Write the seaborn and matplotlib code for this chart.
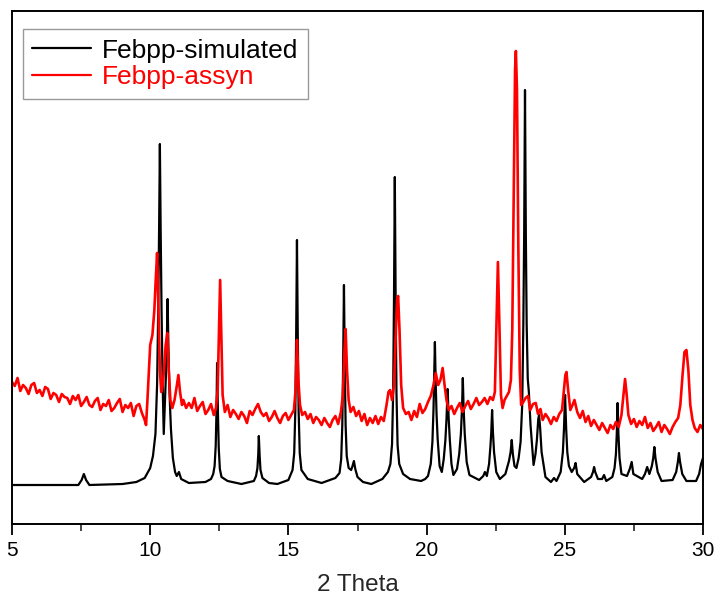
"""
XRD comparison: simulated vs as-synthesised Febpp pattern.
Writes out.png
"""

import matplotlib
matplotlib.use("Agg")
import matplotlib.pyplot as plt
from matplotlib.ticker import MultipleLocator
import pandas as pd
import seaborn as sns

# -- simulated pattern (2theta, intensity a.u.) ------------------------------
sim_2theta = [
    5.0, 7.4, 7.52, 7.6, 7.68, 7.8, 9.0, 9.5, 9.8, 10.0,
    10.1, 10.19, 10.25, 10.29, 10.32, 10.35, 10.38, 10.41, 10.45, 10.49,
    10.53, 10.57, 10.6, 10.63, 10.66, 10.7, 10.75, 10.82, 10.9, 10.96,
    11.04, 11.12, 11.4, 12.0, 12.2, 12.28, 12.33, 12.37, 12.4, 12.42,
    12.45, 12.48, 12.52, 12.58, 12.8, 13.3, 13.75, 13.83, 13.88, 13.91,
    13.93, 13.96, 13.99, 14.06, 14.3, 14.6, 15.0, 15.15, 15.21, 15.25,
    15.28, 15.31, 15.34, 15.37, 15.41, 15.47, 15.7, 16.2, 16.7, 16.85,
    16.91, 16.95, 16.98, 17.01, 17.04, 17.07, 17.11, 17.18, 17.27, 17.32,
    17.37, 17.42, 17.5, 17.7, 18.0, 18.4, 18.6, 18.69, 18.75, 18.79,
    18.82, 18.85, 18.88, 18.91, 18.95, 19.01, 19.15, 19.4, 19.8, 19.95,
    20.05, 20.15, 20.21, 20.25, 20.27, 20.3, 20.33, 20.36, 20.4, 20.47,
    20.55, 20.62, 20.68, 20.72, 20.76, 20.8, 20.84, 20.9, 20.97, 21.1,
    21.18, 21.24, 21.28, 21.31, 21.34, 21.38, 21.45, 21.55, 21.9, 22.05,
    22.11, 22.18, 22.26, 22.31, 22.34, 22.37, 22.4, 22.44, 22.52, 22.65,
    22.85, 22.98, 23.04, 23.08, 23.12, 23.18, 23.25, 23.33, 23.4, 23.46,
    23.5, 23.53, 23.56, 23.59, 23.62, 23.66, 23.7, 23.76, 23.87, 23.94,
    23.99, 24.04, 24.07, 24.11, 24.16, 24.3, 24.5, 24.61, 24.7, 24.85,
    24.93, 24.97, 25.01, 25.05, 25.09, 25.15, 25.25, 25.34, 25.39, 25.45,
    25.7, 25.95, 26.02, 26.06, 26.1, 26.2, 26.35, 26.42, 26.5, 26.72,
    26.8, 26.85, 26.88, 26.91, 26.94, 26.98, 27.05, 27.25, 27.35, 27.42,
    27.48, 27.8, 27.9, 27.98, 28.06, 28.15, 28.2, 28.24, 28.28, 28.36,
    28.5, 28.9, 29.03, 29.09, 29.13, 29.17, 29.25, 29.4, 29.75, 29.86,
    29.93, 30.0,
]
sim_int = [
    39, 39, 44, 50, 44, 39, 40, 42, 46, 56,
    68, 90, 140, 215, 290, 380, 290, 215, 140, 90,
    120, 150, 180, 225, 175, 130, 95, 66, 52, 48,
    52, 45, 41, 42, 45, 50, 58, 78, 115, 161,
    112, 76, 55, 47, 43, 40, 43, 48, 56, 70,
    88, 68, 54, 46, 41, 40, 44, 54, 71, 113,
    186, 284, 186, 113, 71, 54, 45, 41, 46, 51,
    65, 99, 159, 239, 159, 99, 68, 56, 54, 58,
    63, 55, 47, 42, 40, 45, 52, 60, 80, 131,
    224, 347, 224, 131, 79, 60, 50, 45, 43, 45,
    48, 60, 82, 115, 140, 182, 140, 110, 85, 58,
    52, 65, 84, 105, 135, 105, 84, 60, 49, 55,
    70, 90, 115, 146, 115, 90, 62, 49, 44, 48,
    52, 48, 60, 78, 92, 114, 92, 72, 52, 45,
    50, 63, 72, 84, 70, 58, 56, 66, 82, 120,
    200, 290, 434, 290, 200, 145, 132, 99, 59, 70,
    84, 105, 109, 95, 72, 47, 42, 46, 43, 52,
    72, 95, 129, 95, 72, 58, 52, 56, 61, 50,
    42, 47, 52, 57, 52, 45, 45, 49, 43, 47,
    56, 70, 90, 121, 90, 66, 50, 48, 55, 62,
    50, 45, 50, 57, 50, 58, 66, 77, 66, 52,
    43, 44, 52, 62, 71, 62, 50, 43, 43, 50,
    60, 66,
]

# -- as-synthesised pattern ---------------------------------------------------
syn_2theta = [
    5.0, 5.1, 5.2, 5.3, 5.4, 5.5, 5.6, 5.7, 5.8, 5.9,
    6.0, 6.1, 6.2, 6.3, 6.4, 6.5, 6.6, 6.7, 6.8, 6.9,
    7.0, 7.1, 7.2, 7.3, 7.4, 7.5, 7.6, 7.7, 7.8, 7.9,
    8.0, 8.1, 8.2, 8.3, 8.4, 8.5, 8.6, 8.7, 8.8, 8.9,
    9.0, 9.1, 9.2, 9.3, 9.4, 9.5, 9.6, 9.7, 9.8, 9.85,
    9.9, 9.95, 10.0, 10.08, 10.15, 10.2, 10.25, 10.3, 10.35, 10.4,
    10.45, 10.5, 10.56, 10.62, 10.67, 10.73, 10.8, 10.88, 10.95, 11.02,
    11.08, 11.15, 11.2, 11.3, 11.4, 11.5, 11.6, 11.7, 11.8, 11.9,
    12.0, 12.1, 12.2, 12.3, 12.38, 12.44, 12.49, 12.53, 12.57, 12.62,
    12.7, 12.8, 12.9, 13.0, 13.1, 13.2, 13.3, 13.4, 13.5, 13.6,
    13.7, 13.8, 13.9, 14.0, 14.1, 14.2, 14.3, 14.4, 14.5, 14.6,
    14.7, 14.8, 14.9, 15.0, 15.1, 15.2, 15.26, 15.31, 15.36, 15.42,
    15.5, 15.6, 15.7, 15.8, 15.9, 16.0, 16.1, 16.2, 16.3, 16.4,
    16.5, 16.6, 16.7, 16.8, 16.9, 16.97, 17.03, 17.07, 17.12, 17.18,
    17.25, 17.35, 17.45, 17.55, 17.65, 17.75, 17.85, 17.95, 18.05, 18.15,
    18.25, 18.35, 18.45, 18.55, 18.62, 18.68, 18.75, 18.82, 18.88, 18.93,
    18.97, 19.02, 19.08, 19.15, 19.25, 19.35, 19.45, 19.55, 19.65, 19.75,
    19.85, 19.95, 20.05, 20.15, 20.25, 20.33, 20.42, 20.5, 20.58, 20.65,
    20.72, 20.8, 20.9, 21.0, 21.1, 21.2, 21.3, 21.4, 21.5, 21.6,
    21.7, 21.8, 21.9, 22.0, 22.1, 22.2, 22.3, 22.4, 22.47, 22.53,
    22.58, 22.63, 22.69, 22.75, 22.82, 22.9, 22.98, 23.05, 23.1, 23.15,
    23.2, 23.23, 23.27, 23.32, 23.37, 23.42, 23.5, 23.58, 23.67, 23.75,
    23.85, 23.95, 24.03, 24.12, 24.2, 24.3, 24.4, 24.5, 24.6, 24.7,
    24.8, 24.9, 24.96, 25.02, 25.06, 25.12, 25.2, 25.28, 25.35, 25.45,
    25.55, 25.65, 25.75, 25.85, 25.95, 26.05, 26.15, 26.25, 26.35, 26.45,
    26.55, 26.65, 26.75, 26.85, 26.95, 27.05, 27.12, 27.18, 27.24, 27.3,
    27.4, 27.5, 27.6, 27.7, 27.8, 27.9, 28.0, 28.1, 28.2, 28.3,
    28.4, 28.5, 28.6, 28.7, 28.8, 28.9, 29.0, 29.1, 29.18, 29.26,
    29.33, 29.4, 29.47, 29.54, 29.62, 29.7, 29.8, 29.9, 30.0,
]
syn_int = [
    142, 138, 146, 133, 139, 136, 130, 139, 141, 131,
    134, 128, 137, 135, 125, 131, 129, 122, 130, 127,
    126, 120, 128, 124, 129, 118, 122, 127, 119, 117,
    123, 126, 114, 120, 118, 124, 113, 116, 121, 125,
    112, 119, 116, 121, 108, 118, 120, 111, 104, 99,
    124, 152, 179, 189, 214, 244, 271, 214, 154, 132,
    139, 154, 179, 191, 154, 124, 116, 124, 136, 149,
    132, 119, 124, 116, 121, 116, 126, 113, 118, 122,
    110, 114, 120, 109, 116, 134, 194, 244, 194, 129,
    112, 119, 107, 114, 110, 105, 112, 108, 101, 113,
    109, 115, 120, 112, 108, 111, 103, 107, 113, 106,
    101, 108, 111, 104, 109, 114, 134, 184, 144, 119,
    109, 112, 105, 110, 101, 107, 104, 99, 106, 101,
    97, 104, 108, 100, 112, 129, 174, 195, 154, 124,
    112, 117, 108, 113, 103, 110, 99, 106, 101, 108,
    100, 107, 103, 119, 132, 134, 124, 139, 184, 224,
    228, 194, 139, 116, 110, 112, 104, 113, 107, 120,
    111, 115, 122, 128, 139, 151, 139, 144, 156, 139,
    124, 114, 118, 110, 116, 121, 112, 118, 123, 115,
    120, 126, 119, 122, 126, 120, 127, 124, 132, 204,
    262, 204, 129, 116, 124, 128, 132, 144, 194, 324,
    454, 473, 434, 274, 154, 119, 122, 126, 128, 114,
    120, 121, 110, 115, 104, 110, 106, 100, 107, 103,
    110, 114, 132, 149, 152, 134, 114, 119, 124, 112,
    106, 113, 102, 108, 98, 104, 99, 94, 101, 96,
    91, 99, 95, 102, 97, 109, 129, 145, 129, 109,
    100, 105, 97, 103, 99, 107, 96, 101, 93, 97,
    102, 92, 99, 95, 90, 97, 102, 106, 119, 149,
    172, 174, 154, 119, 104, 96, 92, 99, 95,
]

labels = ["Febpp-simulated", "Febpp-assyn"]
colors = {"Febpp-simulated": "black", "Febpp-assyn": "#ff0000"}

sns.set_theme(style="ticks")
plt.rcParams["font.family"] = ["Liberation Sans", "DejaVu Sans"]

df = pd.concat([
    pd.DataFrame({"two_theta": sim_2theta, "intensity": sim_int, "series": labels[0]}),
    pd.DataFrame({"two_theta": syn_2theta, "intensity": syn_int, "series": labels[1]}),
], ignore_index=True)

fig = plt.figure(figsize=(7.14, 5.99), dpi=100)
ax = fig.add_axes([12 / 714, 1 - 524 / 599, 691 / 714, 513 / 599])

sns.lineplot(data=df, x="two_theta", y="intensity", hue="series",
             hue_order=labels, palette=colors, estimator=None, sort=False,
             linewidth=1.6, ax=ax)
# the measured trace is a touch heavier (noisy band)
ax.lines[1].set_linewidth(1.9)

ax.set_xlim(5, 30)
ax.set_ylim(0, 513)
ax.set_yticks([])
ax.set_ylabel("")
ax.set_xlabel("2 Theta", fontsize=17.5, labelpad=10)
ax.xaxis.set_major_locator(MultipleLocator(5))
ax.xaxis.set_minor_locator(MultipleLocator(2.5))
ax.tick_params(axis="x", which="major", direction="out", length=8, width=1.3,
               labelsize=15, pad=4, colors="black")
ax.tick_params(axis="x", which="minor", direction="out", length=5, width=1.2)
for sp in ax.spines.values():
    sp.set_visible(True)
    sp.set_linewidth(1.4)
    sp.set_color("black")

leg = ax.legend(loc="upper left", bbox_to_anchor=(0.0155, 0.964),
                borderaxespad=0, frameon=True, fancybox=False,
                edgecolor="#808080", fontsize=19, handlelength=2.24,
                handletextpad=0.42, borderpad=0.35, labelspacing=0.1)
leg.get_frame().set_linewidth(1.0)
for line in leg.get_lines():
    line.set_linewidth(1.6)
for txt, lab in zip(leg.get_texts(), labels):
    txt.set_color(colors[lab])

fig.savefig("out.png", dpi=100)
plt.close(fig)
